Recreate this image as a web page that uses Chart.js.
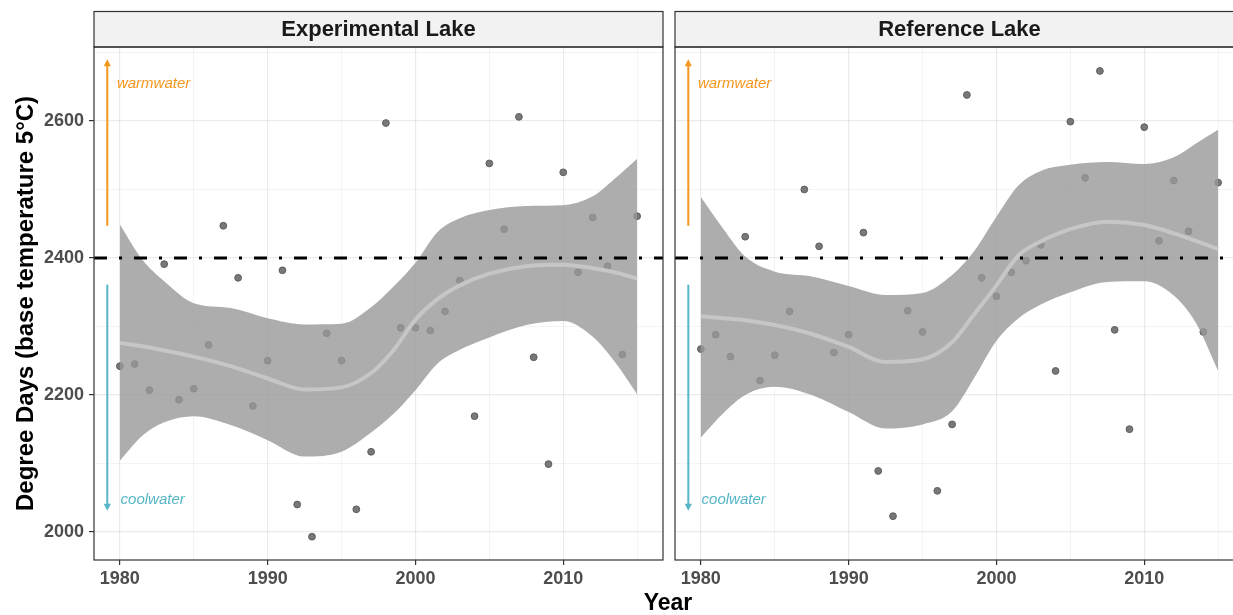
<!DOCTYPE html>
<html>
<head>
<meta charset="utf-8">
<script src="https://cdn.jsdelivr.net/npm/chart.js@4.4.1/dist/chart.umd.min.js"></script>
<style>
  html, body { margin: 0; padding: 0; background: #fff; }
  #wrap { position: relative; width: 1233px; height: 615px; overflow: hidden; background: #fff; }
  #cExp { position: absolute; left: 0; top: 0; }
  #cRef { position: absolute; left: 670px; top: 0; }
  #xTitle {
    position: absolute; left: 568px; top: 591px; width: 200px; text-align: center;
    font: bold 23px "Liberation Sans", Arial, sans-serif; line-height: 23px; color: #000;
  }
</style>
</head>
<body>
<div id="wrap">
  <canvas id="cExp" width="668" height="615" style="width:668px;height:615px"></canvas>
  <canvas id="cRef" width="590" height="615" style="width:590px;height:615px"></canvas>
  <div id="xTitle">Year</div>
</div>
<script>
// Annual degree days (base 5°C), one value per year
const years = [1980,1981,1982,1983,1984,1985,1986,1987,1988,1989,1990,1991,1992,1993,1994,1995,1996,1997,
               1998,1999,2000,2001,2002,2003,2004,2005,2006,2007,2008,2009,2010,2011,2012,2013,2014,2015];
const expDegreeDays = [2242,2245,2207,2391,2193,2209,2273,2447,2371,2184,2250,2382,2040,1993,2290,2250,2033,2117,
                       2597,2298,2298,2294,2322,2367,2169,2538,2442,2606,2255,2099,2525,2379,2459,2388,2259,2461];
const refDegreeDays = [2267,2288,2256,2431,2221,2258,2322,2500,2417,2262,2288,2437,2089,2023,2323,2292,2060,2157,
                       2638,2371,2344,2379,2396,2419,2235,2599,2517,2673,2295,2150,2591,2425,2513,2439,2292,2510];

// Smoothed trend with its confidence band
const smoothYears = [1980,1981.5,1983,1985,1987.5,1990,1992.5,1995,1997,1998.5,2000,2001.5,2003,2005,2007.5,2010,2012,2013.5,2015];
const expFit   = [2276,2271,2265,2256,2242,2224,2208,2211,2232,2265,2310,2340,2360,2377,2388,2390,2385,2379,2370];
const expUpper = [2449,2398,2366,2334,2327,2312,2303,2304,2328,2358,2393,2438,2458,2470,2476,2477,2490,2516,2545];
const expLower = [2104,2140,2160,2169,2156,2134,2110,2117,2145,2172,2207,2246,2266,2284,2302,2308,2285,2248,2201];
const refFit   = [2315,2312,2309,2302,2289,2270,2248,2252,2277,2318,2360,2404,2424,2442,2453,2448,2436,2425,2413];
const refUpper = [2489,2443,2402,2380,2373,2359,2346,2349,2375,2410,2460,2506,2527,2536,2540,2537,2547,2567,2587];
const refLower = [2138,2173,2200,2212,2200,2175,2151,2157,2176,2225,2279,2312,2332,2350,2365,2366,2345,2305,2235];

// Axes
const xRange = [1978.25, 2016.75];
const yRange = [1959, 2708];
const xTicks = [1980,1985,1990,1995,2000,2005,2010,2015];
const xTickLabels = [1980,1990,2000,2010];
const yTicks = [2000,2100,2200,2300,2400,2500,2600,2700];
const yTickLabels = [2000,2200,2400,2600];

// Threshold and direction annotations
const threshold = 2400;
const arrowYear = 1979.15;
const warmArrow = [2447, 2690];
const coolArrow = [2361, 2031];
const warmLabel = { year: 1979.8, value: 2654, text: 'warmwater' };
const coolLabel = { year: 1980.05, value: 2047, text: 'coolwater' };

const FONT = '"Liberation Sans", Arial, Helvetica, sans-serif';
const WARM = '#f5961e';
const COOL = '#56b6c8';

const pts = (xs, ys) => xs.map((x, i) => ({ x: x, y: ys[i] }));

const facetPlugin = {
  id: 'facet',
  beforeDraw(chart, args, opts) {
    const { ctx, chartArea: a } = chart;
    ctx.save();
    ctx.fillStyle = '#f2f2f2';
    ctx.fillRect(a.left, 11.5, a.right - a.left, 47 - 11.5);
    ctx.strokeStyle = '#333';
    ctx.lineWidth = 1.2;
    ctx.strokeRect(a.left, 11.5, a.right - a.left, 47 - 11.5);
    ctx.fillStyle = '#1a1a1a';
    ctx.font = 'bold 22px ' + FONT;
    ctx.textAlign = 'center';
    ctx.textBaseline = 'middle';
    ctx.fillText(opts.label, (a.left + a.right) / 2, 30);
    ctx.restore();
  },
  afterDraw(chart) {
    const { ctx, chartArea: a } = chart;
    ctx.save();
    ctx.strokeStyle = '#333';
    ctx.lineWidth = 1.2;
    ctx.strokeRect(a.left, a.top, a.right - a.left, a.bottom - a.top);
    ctx.restore();
  }
};

const arrowPlugin = {
  id: 'tempArrows',
  afterDatasetsDraw(chart) {
    const { ctx, scales: { x, y } } = chart;
    const ax = x.getPixelForValue(arrowYear);
    const arrow = (from, to, color) => {
      const y0 = y.getPixelForValue(from), y1 = y.getPixelForValue(to);
      const dir = y1 < y0 ? -1 : 1;
      ctx.strokeStyle = color; ctx.fillStyle = color; ctx.lineWidth = 2;
      ctx.beginPath(); ctx.moveTo(ax, y0); ctx.lineTo(ax, y1 - dir * 3); ctx.stroke();
      ctx.beginPath();
      ctx.moveTo(ax - 3.6, y1 - dir * 7);
      ctx.lineTo(ax, y1);
      ctx.lineTo(ax + 3.6, y1 - dir * 7);
      ctx.closePath(); ctx.fill();
    };
    ctx.save();
    arrow(warmArrow[0], warmArrow[1], WARM);
    arrow(coolArrow[0], coolArrow[1], COOL);
    ctx.font = 'italic 15px ' + FONT;
    ctx.textAlign = 'left';
    ctx.textBaseline = 'middle';
    ctx.fillStyle = WARM;
    ctx.fillText(warmLabel.text, x.getPixelForValue(warmLabel.year), y.getPixelForValue(warmLabel.value));
    ctx.fillStyle = COOL;
    ctx.fillText(coolLabel.text, x.getPixelForValue(coolLabel.year), y.getPixelForValue(coolLabel.value));
    ctx.restore();
  }
};

function gridColor(ctx) { return 'rgba(0,0,0,0.08)'; }

function makePanel(canvasId, label, values, fit, upper, lower, showY) {
  const tickFont = { family: FONT, size: 18, weight: 'bold' };
  return new Chart(document.getElementById(canvasId), {
    type: 'line',
    data: {
      datasets: [
        { // threshold line
          data: [{ x: xRange[0], y: threshold }, { x: xRange[1], y: threshold }],
          borderColor: '#000', borderWidth: 3, borderDash: [13, 12, 3, 12],
          pointRadius: 0, fill: false, order: 0
        },
        { // smoothed trend
          data: pts(smoothYears, fit),
          borderColor: '#c6c6c6', borderWidth: 4, pointRadius: 0,
          cubicInterpolationMode: 'monotone', fill: false, order: 1
        },
        { // band upper edge
          data: pts(smoothYears, upper),
          borderWidth: 0, borderColor: 'rgba(0,0,0,0)', pointRadius: 0,
          cubicInterpolationMode: 'monotone',
          fill: '+1', backgroundColor: 'rgba(153,153,153,0.8)', order: 2
        },
        { // band lower edge
          data: pts(smoothYears, lower),
          borderWidth: 0, borderColor: 'rgba(0,0,0,0)', pointRadius: 0,
          cubicInterpolationMode: 'monotone', fill: false, order: 2
        },
        { // yearly observations
          data: pts(years, values),
          showLine: false, pointRadius: 3.4, pointBorderWidth: 1,
          pointBackgroundColor: '#787878', pointBorderColor: '#5e5e5e', order: 3
        }
      ]
    },
    options: {
      responsive: false,
      animation: false,
      devicePixelRatio: 1,
      events: [],
      layout: { padding: showY ? { top: 47, right: 4, left: 0, bottom: 0 } : { top: 47, right: 16, left: 4, bottom: 0 } },
      plugins: {
        legend: { display: false },
        tooltip: { enabled: false },
        facet: { label: label }
      },
      scales: {
        x: {
          type: 'linear', min: xRange[0], max: xRange[1],
          afterBuildTicks: s => { s.ticks = xTicks.map(v => ({ value: v })); },
          afterFit: s => { s.height = 55; },
          border: { display: false },
          grid: {
            color: gridColor,
            lineWidth: c => (xTickLabels.includes(c.tick.value) ? 1.2 : 0.6),
            drawTicks: true, tickLength: 5, tickWidth: 1.2,
            tickColor: c => (xTickLabels.includes(c.tick.value) ? '#333' : 'rgba(0,0,0,0)')
          },
          ticks: {
            autoSkip: false, maxRotation: 0, padding: 3, color: '#4d4d4d', font: tickFont,
            callback: v => (xTickLabels.includes(v) ? String(v) : '')
          }
        },
        y: {
          type: 'linear', min: yRange[0], max: yRange[1],
          afterBuildTicks: s => { s.ticks = yTicks.map(v => ({ value: v })); },
          afterFit: s => { s.width = showY ? 94 : 0; },
          border: { display: false },
          grid: {
            color: gridColor,
            lineWidth: c => (yTickLabels.includes(c.tick.value) ? 1.2 : 0.6),
            drawTicks: showY, tickLength: 5, tickWidth: 1.2,
            tickColor: c => (yTickLabels.includes(c.tick.value) ? '#333' : 'rgba(0,0,0,0)')
          },
          ticks: {
            display: showY, autoSkip: false, padding: 5, color: '#4d4d4d', font: tickFont,
            callback: v => (yTickLabels.includes(v) ? String(v) : '')
          },
          title: {
            display: showY, text: 'Degree Days (base temperature 5°C)', color: '#000',
            font: { family: FONT, size: 24, weight: 'bold' }, padding: { top: 12, bottom: 0 }
          }
        }
      }
    },
    plugins: [facetPlugin, arrowPlugin]
  });
}

makePanel('cExp', 'Experimental Lake', expDegreeDays, expFit, expUpper, expLower, true);
makePanel('cRef', 'Reference Lake', refDegreeDays, refFit, refUpper, refLower, false);
</script>
</body>
</html>
